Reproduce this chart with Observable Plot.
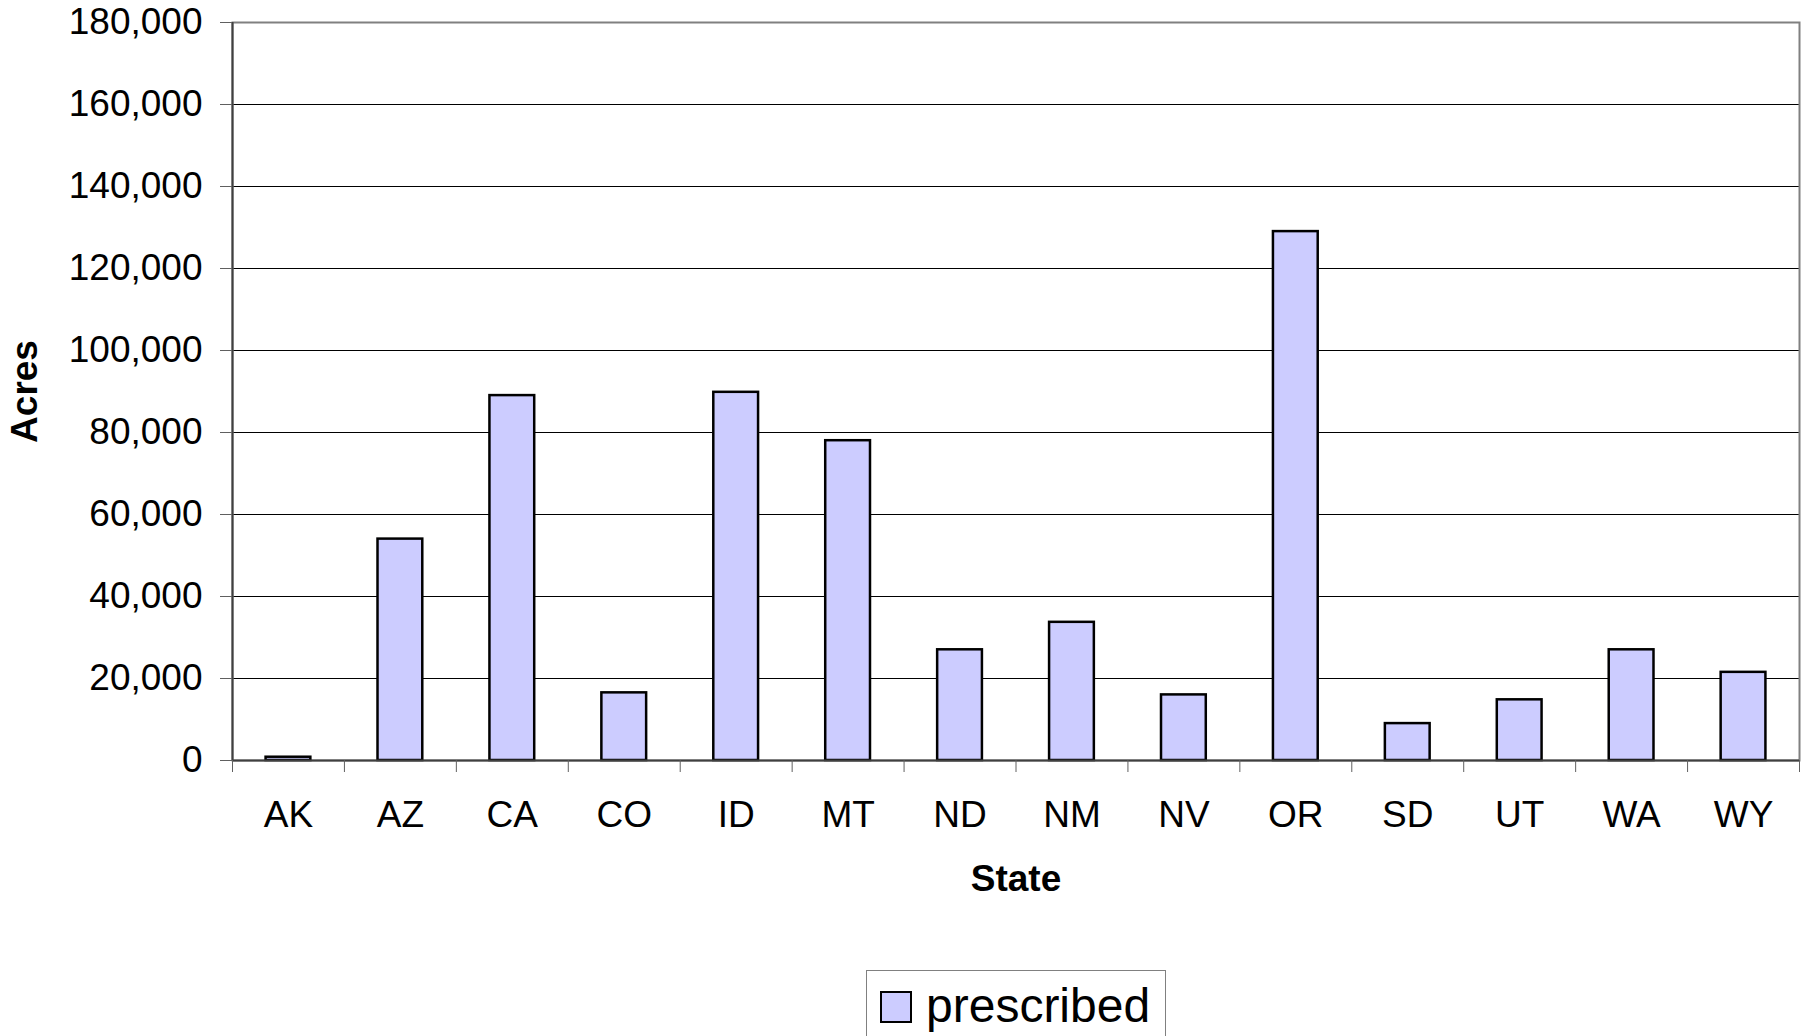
<!DOCTYPE html>
<html>
<head>
<meta charset="utf-8">
<script src="https://cdn.jsdelivr.net/npm/d3@7"></script>
<script src="https://cdn.jsdelivr.net/npm/@observablehq/plot@0.6"></script>
<style>
  html, body { margin: 0; padding: 0; background: white; overflow: hidden; }
  #wrap { position: relative; width: 1806px; height: 1036px; font-family: "Liberation Sans", Arial, sans-serif; }
  #legend { position: absolute; left: 866px; top: 970px; width: 300px; height: 90px; box-sizing: border-box;
            border: 1px solid #808080; background: white; }
  #legend .sw { position: absolute; left: 13px; top: 20px; width: 32px; height: 32px; box-sizing: border-box;
                border: 2px solid black; background: #ccccff; }
  #legend .lbl { position: absolute; left: 59px; top: 9px; font-size: 48px; line-height: 52px; color: black; white-space: nowrap; }
</style>
</head>
<body>
<div id="wrap">
  <div id="chart"></div>
  <div id="legend"><div class="sw"></div><div class="lbl">prescribed</div></div>
</div>
<script>
const states = ["AK","AZ","CA","CO","ID","MT","ND","NM","NV","OR","SD","UT","WA","WY"];
const acres = [800, 54000, 89000, 16500, 89800, 78000, 27000, 33700, 16000, 129000, 9000, 14800, 27000, 21500];
const yTicks = [0, 20000, 40000, 60000, 80000, 100000, 120000, 140000, 160000, 180000];
const gridTicks = [20000, 40000, 60000, 80000, 100000, 120000, 140000, 160000];
const seriesName = "prescribed";
const xTitle = "State";
const yTitle = "Acres";

const data = states.map((s, i) => ({state: s, acres: acres[i]}));

const W = 1806, H = 960, mL = 232, mR = 7, mT = 22, mB = 200;
const step = (W - mL - mR) / states.length;

const chart = Plot.plot({
  width: W, height: H,
  marginLeft: mL, marginRight: mR, marginTop: mT, marginBottom: mB,
  style: {fontFamily: "'Liberation Sans', Arial, sans-serif", fontSize: "37px", background: "white", color: "black"},
  x: {domain: states, paddingInner: 0.6, paddingOuter: 0.3, round: false, axis: null, label: null},
  y: {domain: [0, 180000], axis: null, label: null},
  marks: [
    Plot.gridY(gridTicks, {stroke: "black", strokeOpacity: 1, strokeWidth: 1}),
    Plot.frame({stroke: "#808080", strokeWidth: 2}),
    Plot.barY(data, {x: "state", y: "acres", fill: "#ccccff", stroke: "black", strokeWidth: 2.5}),
    Plot.ruleY([0], {stroke: "#404040", strokeWidth: 2}),
    Plot.ruleX([states[0]], {dx: -step / 2, stroke: "#404040", strokeWidth: 2}),
    Plot.axisY({ticks: yTicks, tickSize: 12, tickPadding: 18, tickFormat: d3.format(","), stroke: "#606060", fill: "black", fontSize: 37, label: null}),
    Plot.axisX({ticks: states, tickSize: 12, tickFormat: () => "", dx: -step / 2, stroke: "#606060", label: null}),
    Plot.axisX({ticks: [states[states.length - 1]], tickSize: 12, tickFormat: () => "", dx: step / 2, stroke: "#606060", label: null}),
    Plot.axisX({ticks: states, tickSize: 0, tickPadding: 40, fontSize: 37, fill: "black", label: null}),
    Plot.text([yTitle], {frameAnchor: "left", dx: -207, rotate: -90, textAnchor: "middle", lineAnchor: "middle", fontWeight: "bold", fontSize: 37, fill: "black"}),
    Plot.text([xTitle], {frameAnchor: "bottom", dy: 119, textAnchor: "middle", lineAnchor: "middle", fontWeight: "bold", fontSize: 37, fill: "black"})
  ]
});
document.getElementById("chart").appendChild(chart);
</script>
</body>
</html>
